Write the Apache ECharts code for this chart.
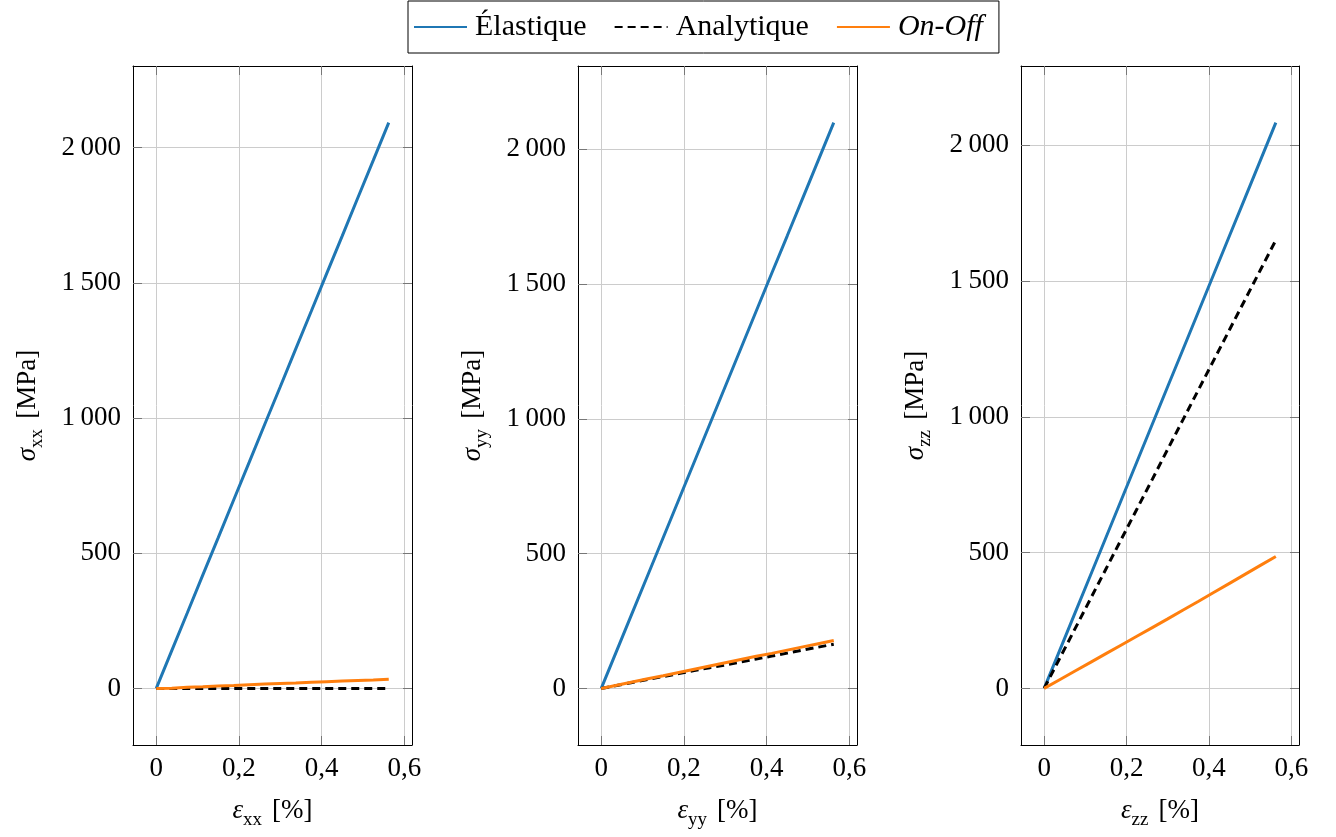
<!DOCTYPE html>
<html>
<head>
<meta charset="utf-8">
<script src="https://cdn.jsdelivr.net/npm/echarts@6/dist/echarts.min.js"></script>
<style>html,body{margin:0;padding:0;background:#fff}#c{width:1336px;height:837px}</style>
</head>
<body>
<div id="c"></div>
<script>
// ---- data ----
const strain = [0, 0.0375, 0.075, 0.1125, 0.15, 0.1875, 0.225, 0.2625, 0.3, 0.3375, 0.375, 0.4125, 0.45, 0.4875, 0.525, 0.5625];
const elasticXX  = [0, 140, 279, 419, 558, 698, 837, 977, 1116, 1256, 1395, 1535, 1674, 1814, 1953, 2093];
const analyticXX = [0, 0, 0, 0, 0, 0, 0, 0, 0, 0, 0, 0, 0, 0, 0, 0];
const onOffXX    = [0, 1, 4, 6, 9, 11, 14, 16, 18, 20, 23, 25, 27, 29, 31, 34];
const elasticYY  = [0, 140, 280, 420, 560, 700, 840, 980, 1120, 1260, 1400, 1540, 1679, 1819, 1959, 2099];
const analyticYY = [0, 11, 22, 33, 44, 55, 66, 77, 87, 98, 109, 120, 131, 142, 153, 164];
const onOffYY    = [0, 12, 24, 36, 47, 59, 71, 83, 95, 107, 119, 130, 142, 154, 166, 178];
const elasticZZ  = [0, 139, 278, 417, 556, 695, 834, 973, 1112, 1250, 1389, 1528, 1667, 1806, 1945, 2084];
const analyticZZ = [0, 110, 220, 330, 440, 550, 660, 770, 881, 991, 1101, 1211, 1321, 1431, 1541, 1651];
const onOffZZ    = [0, 32, 64, 96, 128, 160, 192, 224, 256, 289, 321, 354, 387, 420, 453, 486];
const seriesNames = ['Élastique', 'Analytique', 'On-Off'];
const components = ['xx', 'yy', 'zz'];
const xTicks = [0, 0.2, 0.4, 0.6];
const yTicks = [0, 500, 1000, 1500, 2000];

// ---- layout ----
const panels = [
  {grid: {left: 133, top: 66, width: 279, height: 679}, x: [-0.05625, 0.61875], y: [-209.3, 2302.3], data: [elasticXX, analyticXX, onOffXX]},
  {grid: {left: 578, top: 66, width: 279, height: 679}, x: [-0.05625, 0.61875], y: [-209.9, 2308.9], data: [elasticYY, analyticYY, onOffYY]},
  {grid: {left: 1021, top: 66, width: 278, height: 679}, x: [-0.05625, 0.61875], y: [-208.4, 2292.4], data: [elasticZZ, analyticZZ, onOffZZ]}
];
const FONT = '"Liberation Serif", "DejaVu Serif", serif';
const colors = ['#1f77b4', '#000000', '#ff7f0e'];
const fmtY = v => { const s = String(Math.round(v)); return s.length > 3 ? s.slice(0, s.length - 3) + '\u2009' + s.slice(-3) : s; };
const fmtX = v => String(Math.round(v * 10) / 10).replace('.', ',');

const rich = {
  g: {fontFamily: FONT, fontSize: 27, fontStyle: 'italic', color: '#000', lineHeight: 30},
  s: {fontFamily: FONT, fontSize: 19, color: '#000', verticalAlign: 'bottom', lineHeight: 20, padding: [0, 0, -4, 0]},
  n: {fontFamily: FONT, fontSize: 27, color: '#000', lineHeight: 30}
};

const grid = [], xAxis = [], yAxis = [], series = [];
panels.forEach((p, i) => {
  grid.push(Object.assign({containLabel: false}, p.grid));
  const tickStyle = {show: true, inside: true, length: 9, lineStyle: {color: '#777', width: 1}};
  const gridLine = {show: true, lineStyle: {color: '#cccccc', width: 1}};
  const axisLine = {show: true, onZero: false, lineStyle: {color: '#000', width: 1}};
  xAxis.push({
    type: 'value', gridIndex: i, position: 'bottom', min: p.x[0], max: p.x[1],
    axisLine, axisTick: Object.assign({customValues: xTicks}, tickStyle),
    axisLabel: {customValues: xTicks, formatter: fmtX, fontFamily: FONT, fontSize: 27, color: '#000', margin: 10},
    splitLine: gridLine,
    name: '{g|ε}{s|' + components[i] + '} {n| [%]}', nameLocation: 'middle', nameGap: 51,
    nameTextStyle: {rich}
  });
  xAxis.push({
    type: 'value', gridIndex: i, position: 'top', min: p.x[0], max: p.x[1],
    axisLine, axisTick: Object.assign({customValues: xTicks}, tickStyle),
    axisLabel: {show: false, customValues: xTicks}, splitLine: {show: false}
  });
  yAxis.push({
    type: 'value', gridIndex: i, position: 'left', min: p.y[0], max: p.y[1],
    axisLine, axisTick: Object.assign({customValues: yTicks}, tickStyle),
    axisLabel: {customValues: yTicks, formatter: fmtY, fontFamily: FONT, fontSize: 27, color: '#000', margin: 12},
    splitLine: gridLine,
    name: '{g|σ}{s|' + components[i] + '} {n| [MPa]}', nameLocation: 'middle', nameGap: 90, nameRotate: 90,
    nameTextStyle: {rich}
  });
  yAxis.push({
    type: 'value', gridIndex: i, position: 'right', min: p.y[0], max: p.y[1],
    axisLine, axisTick: Object.assign({customValues: yTicks}, tickStyle),
    axisLabel: {show: false, customValues: yTicks}, splitLine: {show: false}
  });
  p.data.forEach((vals, k) => {
    series.push({
      type: 'line', name: seriesNames[k], xAxisIndex: 2 * i, yAxisIndex: 2 * i,
      data: strain.map((x, j) => [x, vals[j]]),
      symbol: 'none', smooth: false, z: k === 1 ? 3 : (k === 2 ? 4 : 2),
      lineStyle: {color: colors[k], width: 3, type: k === 1 ? [8, 5] : 'solid'},
      itemStyle: {color: colors[k]}
    });
  });
});

const chart = echarts.init(document.getElementById('c'), null, {renderer: 'canvas'});
chart.setOption({
  animation: false,
  backgroundColor: '#fff',
  legend: {
    data: seriesNames, left: 408, top: 1,
    padding: [9, 16, 9, 5], itemGap: 27, itemWidth: 53, itemHeight: 14,
    borderColor: '#000', borderWidth: 1, borderRadius: 0,
    itemStyle: {opacity: 0},
    textStyle: {fontFamily: FONT, fontSize: 30, color: '#000', lineHeight: 34, padding: [0, 0, 0, 3],
      rich: {i: {fontFamily: FONT, fontSize: 30, fontStyle: 'italic', color: '#000', lineHeight: 34}}},
    formatter: n => n === 'On-Off' ? '{i|On-Off}' : n
  },
  grid, xAxis, yAxis, series
});
</script>
</body>
</html>
